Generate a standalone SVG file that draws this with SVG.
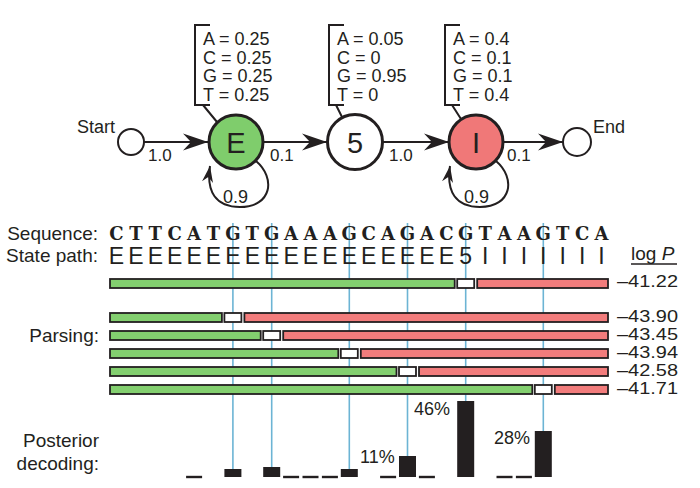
<svg xmlns="http://www.w3.org/2000/svg" width="700" height="488" viewBox="0 0 700 488">
<style>
text{font-family:"Liberation Sans",Arial,sans-serif;fill:#231f20}
.em{font-size:18px}
.lbl{font-size:17px}
.side{font-size:19px}
.big{font-size:29px}
.seq{font-family:"DejaVu Serif",serif;font-weight:bold;font-size:18px}
.st{font-size:23px}
.node{stroke:#231f20;stroke-width:3}
.small{fill:#fff;stroke:#231f20;stroke-width:2}
.br{fill:none;stroke:#231f20;stroke-width:2}
.edge{fill:none;stroke:#231f20;stroke-width:2}
.blue{stroke:#6cb4d4;stroke-width:1.6}
.g{fill:#83cf6f;stroke:#231f20;stroke-width:1.8}
.r{fill:#f27c7c;stroke:#231f20;stroke-width:1.8}
.w{fill:#fff;stroke:#231f20;stroke-width:1.8}
.bar{fill:#231f20}
.val{font-size:16px}
.hdr{font-size:19px}
</style>
<defs>
<marker id="ah" viewBox="-25 -9 26 18" refX="0" refY="0" markerWidth="26" markerHeight="18" markerUnits="userSpaceOnUse" orient="auto">
<path d="M0,0 L-25,-8.5 L-17,0 L-25,8.5 Z" fill="#231f20"/>
</marker>
<marker id="ahs" viewBox="-25 -9 26 18" refX="0" refY="0" markerWidth="17" markerHeight="12" markerUnits="userSpaceOnUse" orient="auto">
<path d="M0,0 L-25,-8.5 L-17,0 L-25,8.5 Z" fill="#231f20"/>
</marker>
</defs>

<!-- blue guide lines -->
<g id="guides">
<line class="blue" x1="232.9" y1="223" x2="232.9" y2="477"/>
<line class="blue" x1="271.7" y1="223" x2="271.7" y2="477"/>
<line class="blue" x1="349.3" y1="223" x2="349.3" y2="477"/>
<line class="blue" x1="407.5" y1="223" x2="407.5" y2="477"/>
<line class="blue" x1="465.7" y1="223" x2="465.7" y2="477"/>
<line class="blue" x1="543.3" y1="223" x2="543.3" y2="477"/>
</g>

<!-- connectors -->
<g id="connectors">
<line class="edge" x1="144" y1="142" x2="208" y2="142" marker-end="url(#ah)"/>
<line class="edge" x1="263" y1="142" x2="327" y2="142" marker-end="url(#ah)"/>
<line class="edge" x1="383" y1="142" x2="449" y2="142" marker-end="url(#ah)"/>
<line class="edge" x1="503" y1="142" x2="563" y2="142" marker-end="url(#ah)"/>
<path class="edge" d="M256,161 C276,178 272,207 240,207 C216,207 206,192 210,166" marker-end="url(#ahs)"/>
<path class="edge" d="M496,161 C516,178 512,207 480,207 C456,207 446,192 450,166" marker-end="url(#ahs)"/>
<text class="lbl" x="148" y="161">1.0</text>
<text class="lbl" x="270" y="161">0.1</text>
<text class="lbl" x="389" y="161">1.0</text>
<text class="lbl" x="507" y="161">0.1</text>
<text class="em" x="223" y="203">0.9</text>
<text class="em" x="464" y="203">0.9</text>
</g>

<g id="start">
<circle class="small" cx="131" cy="142" r="13"/>
<text class="em" x="77" y="133">Start</text>
</g>
<g id="end">
<circle class="small" cx="577" cy="142" r="14"/>
<text class="em" x="593" y="133">End</text>
</g>

<g id="stateE">
<path class="br" d="M210,25 H195 V105 H210 M203,105 L217,122"/>
<text class="em" x="203" y="45">A = 0.25</text>
<text class="em" x="203" y="63.5">C = 0.25</text>
<text class="em" x="203" y="82">G = 0.25</text>
<text class="em" x="203" y="100.5">T = 0.25</text>
<circle class="node" cx="236" cy="142" r="27" fill="#7fcd6c"/>
<text class="big" x="236" y="152.5" text-anchor="middle">E</text>
</g>

<g id="state5">
<path class="br" d="M344,25 H329 V105 H344 M336,105 L342,117"/>
<text class="em" x="337" y="45">A = 0.05</text>
<text class="em" x="337" y="63.5">C = 0</text>
<text class="em" x="337" y="82">G = 0.95</text>
<text class="em" x="337" y="100.5">T = 0</text>
<circle class="node" cx="355" cy="142" r="27.5" fill="#fff"/>
<text class="big" x="355" y="152.5" text-anchor="middle">5</text>
</g>

<g id="stateI">
<path class="br" d="M460,25 H445 V105 H460 M452,105 L461,119"/>
<text class="em" x="453" y="45">A = 0.4</text>
<text class="em" x="453" y="63.5">C = 0.1</text>
<text class="em" x="453" y="82">G = 0.1</text>
<text class="em" x="453" y="100.5">T = 0.4</text>
<circle class="node" cx="476" cy="142" r="27" fill="#f07878"/>
<text class="big" x="476" y="152.5" text-anchor="middle">I</text>
</g>

<!-- sequence and state path -->
<g id="sequence">
<text class="side" x="98" y="240" text-anchor="end">Sequence:</text>
<text class="seq" y="240" text-anchor="middle" x="116.5 135.9 155.3 174.7 194.1 213.5 232.9 252.3 271.7 291.1 310.5 329.9 349.3 368.7 388.1 407.5 426.9 446.3 465.7 485.1 504.5 523.9 543.3 562.7 582.1 601.5">CTTCATGTGAAAGCAGACGTAAGTCA</text>
</g>
<g id="statepath">
<text class="side" x="98" y="262" text-anchor="end">State path:</text>
<text class="st" y="264" text-anchor="middle" x="116.5 135.9 155.3 174.7 194.1 213.5 232.9 252.3 271.7 291.1 310.5 329.9 349.3 368.7 388.1 407.5 426.9 446.3 465.7 485.1 504.5 523.9 543.3 562.7 582.1 601.5">EEEEEEEEEEEEEEEEEE5IIIIIII</text>
</g>

<g id="logp">
<text class="hdr" x="631" y="260">log <tspan font-style="italic">P</tspan></text>
<line x1="631" y1="264" x2="677" y2="264" stroke="#231f20" stroke-width="1.3"/>
<text class="val" x="617" y="287" textLength="61" lengthAdjust="spacingAndGlyphs">–41.22</text>
<text class="val" x="617" y="322" textLength="61" lengthAdjust="spacingAndGlyphs">–43.90</text>
<text class="val" x="617" y="340" textLength="61" lengthAdjust="spacingAndGlyphs">–43.45</text>
<text class="val" x="617" y="358" textLength="61" lengthAdjust="spacingAndGlyphs">–43.94</text>
<text class="val" x="617" y="376" textLength="61" lengthAdjust="spacingAndGlyphs">–42.58</text>
<text class="val" x="617" y="394" textLength="61" lengthAdjust="spacingAndGlyphs">–41.71</text>
</g>

<!-- viterbi parse -->
<g id="viterbi">
<rect class="g" x="110" y="279" width="344.7" height="9"/>
<rect class="w" x="457.2" y="279" width="17" height="9"/>
<rect class="r" x="477.2" y="279" width="130.8" height="9"/>
</g>

<g id="parsing">
<text class="side" x="99" y="342" text-anchor="end">Parsing:</text>
<rect class="g" x="110" y="313" width="111.9" height="9"/>
<rect class="w" x="224.4" y="313" width="17" height="9"/>
<rect class="r" x="244.4" y="313" width="363.6" height="9"/>

<rect class="g" x="110" y="331" width="150.7" height="9"/>
<rect class="w" x="263.2" y="331" width="17" height="9"/>
<rect class="r" x="283.2" y="331" width="324.8" height="9"/>

<rect class="g" x="110" y="349" width="228.3" height="9"/>
<rect class="w" x="340.8" y="349" width="17" height="9"/>
<rect class="r" x="360.8" y="349" width="247.2" height="9"/>

<rect class="g" x="110" y="367" width="286.5" height="9"/>
<rect class="w" x="399" y="367" width="17" height="9"/>
<rect class="r" x="419" y="367" width="189" height="9"/>

<rect class="g" x="110" y="385" width="422.3" height="9"/>
<rect class="w" x="534.8" y="385" width="17" height="9"/>
<rect class="r" x="554.8" y="385" width="53.2" height="9"/>
</g>

<g id="posterior">
<text class="side" x="99" y="447" text-anchor="end">Posterior</text>
<text class="side" x="99" y="470" text-anchor="end">decoding:</text>
<rect class="bar" x="224.4" y="469" width="17" height="8"/>
<rect class="bar" x="263.2" y="467" width="17" height="10"/>
<rect class="bar" x="340.8" y="469" width="17" height="8"/>
<rect class="bar" x="399" y="456" width="17" height="21"/>
<rect class="bar" x="457.2" y="401" width="17" height="76"/>
<rect class="bar" x="534.8" y="431" width="17" height="46"/>
<rect class="bar" x="186.1" y="475.8" width="16" height="2.4"/>
<rect class="bar" x="283.1" y="475.8" width="16" height="2.4"/>
<rect class="bar" x="302.5" y="475.8" width="16" height="2.4"/>
<rect class="bar" x="321.9" y="475.8" width="16" height="2.4"/>
<rect class="bar" x="380.1" y="475.8" width="16" height="2.4"/>
<rect class="bar" x="418.9" y="475.8" width="16" height="2.4"/>
<rect class="bar" x="496.5" y="475.8" width="16" height="2.4"/>
<rect class="bar" x="515.9" y="475.8" width="16" height="2.4"/>
<text class="em" x="360" y="463">11%</text>
<text class="em" x="414" y="415">46%</text>
<text class="em" x="494" y="444">28%</text>
</g>
</svg>
